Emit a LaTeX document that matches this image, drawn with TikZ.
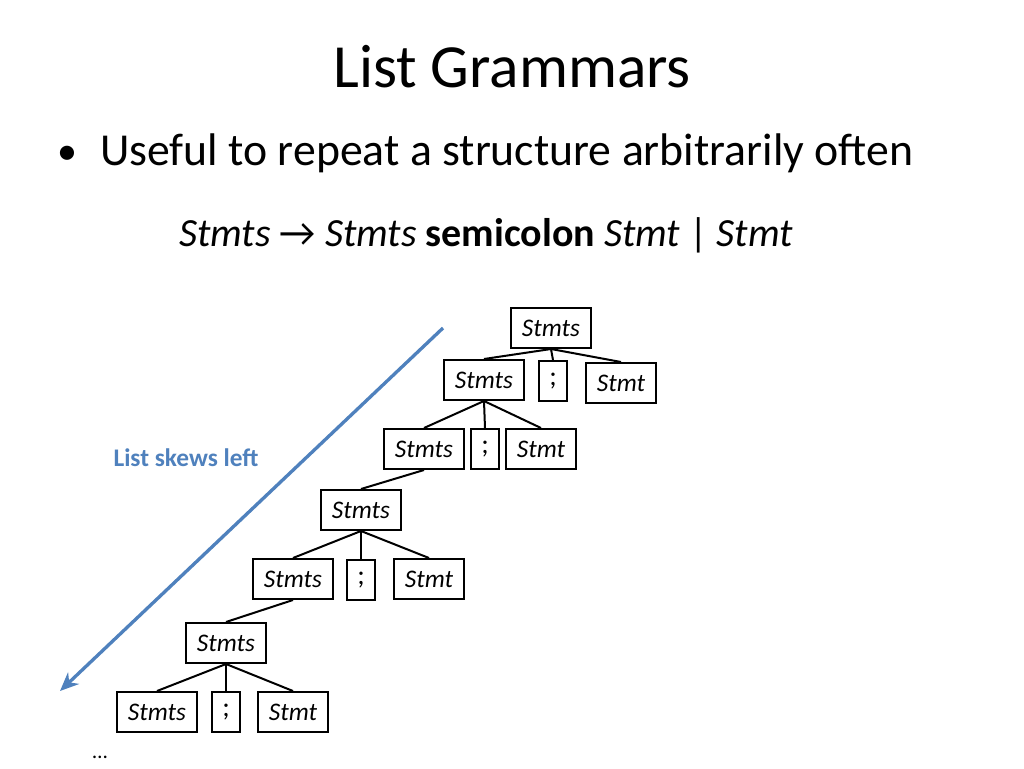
\documentclass[tikz,border=0pt]{standalone}
\usepackage{fontspec}
\usetikzlibrary{arrows.meta}
\setmainfont{Carlito}
\definecolor{lblue}{RGB}{79,129,189}
\begin{document}
\begin{tikzpicture}[x=0.75pt,y=-0.75pt,
  tb/.style={draw,line width=1.5pt,minimum height=30pt,inner sep=0pt,font=\fontsize{19}{22}\selectfont\itshape},
  sb/.style={tb,minimum width=60pt},
  tk/.style={tb,minimum width=21pt,font=\fontsize{21}{22}\selectfont},
  st/.style={tb,minimum width=53pt},
  ln/.style={line width=1.5pt}]
\useasboundingbox (0,0) rectangle (1024,768);
\node at (512,67) {\fontsize{46}{50}\selectfont List Grammars};
\node (bul) at (67,155) {\fontsize{30}{34}\selectfont •};
\node[anchor=west,inner sep=0pt] at (100,153) {\fontsize{34.3}{38}\selectfont Useful to repeat a structure arbitrarily often};
\node at (486,235) {\fontsize{30}{34}\selectfont \textit{Stmts} → \textit{Stmts} \textbf{semicolon} \textit{Stmt} | \textit{Stmt}};
\node[font=\fontsize{19}{21}\selectfont\bfseries,text=lblue] at (186,458) {List skews left};
\coordinate (a1) at (443,328); \coordinate (a2) at (60,691);
\draw[line width=2.5pt,draw=lblue,-{Stealth[length=14pt,width=12pt]}] (a1) -- (a2);
\node[sb] (r) at (551,328) {Stmts};
\node[sb] (s2) at (484,380) {Stmts}; \node[tk] (k2) at (553,381) {;}; \node[st] (t2) at (621,383) {Stmt};
\node[sb] (s3) at (424,449) {Stmts}; \node[tk] (k3) at (485,449) {;}; \node[st] (t3) at (541,449) {Stmt};
\node[sb] (s4) at (361,510) {Stmts};
\node[sb] (s5) at (293,579) {Stmts}; \node[tk] (k5) at (361,580) {;}; \node[st] (t5) at (429,579) {Stmt};
\node[sb] (s6) at (226,643) {Stmts};
\node[sb] (s7) at (157,712) {Stmts}; \node[tk] (k7) at (226,712) {;}; \node[st] (t7) at (293,712) {Stmt};
\node (dots) at (100,757) {\fontsize{16}{18}\selectfont …};
\foreach \p/\c in {r/s2,r/k2,r/t2,s2/s3,s2/k3,s2/t3,s3/s4,s4/s5,s4/k5,s4/t5,s5/s6,s6/s7,s6/k7,s6/t7}
  \draw[ln] (\p.south) -- (\c.north);
\end{tikzpicture}
\end{document}
